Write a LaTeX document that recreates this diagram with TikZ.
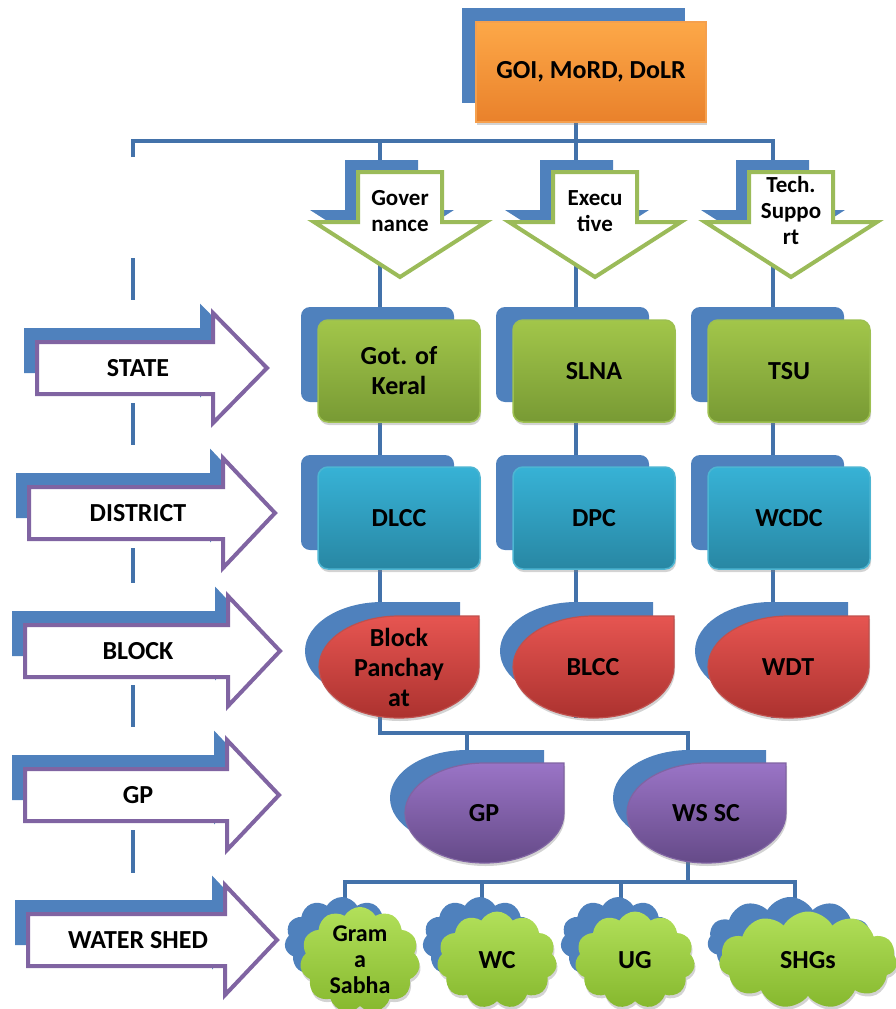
\documentclass[tikz,border=0pt]{standalone}
\usepackage{fontspec}
\setmainfont{Carlito}
\usetikzlibrary{shapes.symbols,shadows}
\definecolor{lineblue}{HTML}{4372AA}
\definecolor{shblue}{HTML}{4F81BD}
\definecolor{orTop}{HTML}{FDA848}
\definecolor{orBot}{HTML}{E9812B}
\definecolor{orLine}{HTML}{F5A04E}
\definecolor{grTop}{HTML}{A2C64A}
\definecolor{grBot}{HTML}{789A34}
\definecolor{grLine}{HTML}{9DC050}
\definecolor{tlTop}{HTML}{37B2D6}
\definecolor{tlBot}{HTML}{2887A3}
\definecolor{tlLine}{HTML}{4DB5D2}
\definecolor{rdTop}{HTML}{E65551}
\definecolor{rdBot}{HTML}{AC322F}
\definecolor{rdLine}{HTML}{C0504D}
\definecolor{puTop}{HTML}{9A74C6}
\definecolor{puBot}{HTML}{654A88}
\definecolor{puLine}{HTML}{8064A2}
\definecolor{clTop}{HTML}{B2E05A}
\definecolor{clBot}{HTML}{86B82E}
\definecolor{arGreen}{HTML}{9BBB59}
\definecolor{arPurple}{HTML}{8064A2}
\newcommand\lbl{\fontsize{26}{30}\selectfont\bfseries}
\newcommand\albl{\fontsize{23}{26}\selectfont\bfseries}
\newcommand\clbl{\fontsize{24}{26}\selectfont\bfseries}
\newcommand\DownArr[3]{%
  \fill[shblue] ({#2-55},160) -- ({#2+18},160) -- ({#2+18},210) -- ({#2+54},210) -- ({#2-18},256) -- ({#2-90},210) -- ({#2-55},210) -- cycle;
  \draw[draw=arGreen, fill=white, line width=4pt] ({#2-42},172) -- ({#2+42},172) -- ({#2+42},222) -- ({#2+86},222) -- (#2,277) -- ({#2-86},222) -- ({#2-42},222) -- cycle;
  \node[txt, font=\albl] (#1) at (#2,211) {#3};}
\newcommand\LeftArr[6]{%
  \fill[shblue] ({#3-13},{#2-40}) -- ({#4-13},{#2-40}) -- ({#4-13},{#2-64.5}) -- ({#4-13+0.85*(#5-#4)},{#2-17.5}) -- ({#4-13},{#2+29.5}) -- ({#4-13},{#2+5}) -- ({#3-13},{#2+5}) -- cycle;
  \draw[draw=arPurple, fill=white, line width=4pt] (#3,{#2-26}) -- (#4,{#2-26}) -- (#4,{#2-55}) -- (#5,#2) -- (#4,{#2+55}) -- (#4,{#2+26}) -- (#3,{#2+26}) -- cycle;
  \node[txt, font=\lbl] (#1) at (138,#2) {#6};}
\newcommand\TearDrop[5]{%
  \path[#5] (#3,#2) -- ({(#1+#3)/2},#2)
   .. controls ({(#1+#3)/2-0.5523*(#3-#1)/2},#2) and (#1,{(#2+#4)/2-0.5523*(#4-#2)/2}) .. (#1,{(#2+#4)/2})
   .. controls (#1,{(#2+#4)/2+0.5523*(#4-#2)/2}) and ({(#1+#3)/2-0.5523*(#3-#1)/2},#4) .. ({(#1+#3)/2},#4)
   .. controls ({(#1+#3)/2+0.5523*(#3-#1)/2},#4) and (#3,{(#2+#4)/2+0.5523*(#4-#2)/2}) .. (#3,{(#2+#4)/2}) -- cycle;}
\tikzset{
  conn/.style={draw=lineblue, line width=4.5pt},
  txt/.style={align=center, inner sep=0pt},
  shade3d/.style={drop shadow={opacity=0.35, shadow xshift=1pt, shadow yshift=-3pt}},
  shbox/.style={fill=shblue, rounded corners=9pt, inner sep=0pt, minimum width=153pt, minimum height=95pt},
  colbox/.style={rounded corners=10pt, inner sep=0pt, minimum width=162pt, minimum height=102pt, align=center, font=\lbl, line width=1.5pt, shade3d},
  grbox/.style={colbox, top color=grTop, bottom color=grBot, draw=grLine},
  tlbox/.style={colbox, top color=tlTop, bottom color=tlBot, draw=tlLine},
  rdshape/.style={top color=rdTop, bottom color=rdBot, draw=rdLine, line width=1.2pt, shade3d},
  pushape/.style={top color=puTop, bottom color=puBot, draw=puLine, line width=1.2pt, shade3d},
  cloudbase/.style={cloud, cloud puffs=11, cloud puff arc=120, cloud ignores aspect, inner sep=0pt},
  cloudsh/.style={cloudbase, fill=shblue},
  cloudgr/.style={cloudbase, top color=clTop, bottom color=clBot, align=center, shade3d},
}
\begin{document}
\begin{tikzpicture}[x=1pt,y=-1pt]
\useasboundingbox (0,0) rectangle (896,1009);
\clip (0,0) rectangle (896,1009);
% junction coordinates
\coordinate (lc0) at (133,157);
\coordinate (hr) at (773,141);
\coordinate (cT) at (773,718);
\coordinate (goiB) at (576,122);
\coordinate (cE) at (576,718);
\coordinate (cG) at (380,141);
\coordinate (jB) at (380,733);
\coordinate (jR) at (688,733);
\coordinate (jW) at (688,882);
\coordinate (jGt) at (467,733);
\coordinate (jGb) at (467,752);
\coordinate (w1) at (345,905);
\coordinate (w4) at (795,905);
\coordinate (w2t) at (482,882);
\coordinate (w2b) at (482,905);
\coordinate (w3t) at (621,882);
\coordinate (w3b) at (621,905);
\coordinate (wh) at (795,882);
\coordinate (l1a) at (133,258); \coordinate (l1b) at (133,300);
\coordinate (l2a) at (133,403); \coordinate (l2b) at (133,445);
\coordinate (l3a) at (133,548); \coordinate (l3b) at (133,583);
\coordinate (l4a) at (133,685); \coordinate (l4b) at (133,727);
\coordinate (l5a) at (133,830); \coordinate (l5b) at (133,873);
% connectors
\draw[conn] (lc0) |- (hr) -- (cT);
\draw[conn] (goiB) -- (cE);
\draw[conn] (cG) -- (jB) -- (jR) -- (jW);
\draw[conn] (jGt) -- (jGb);
\draw[conn] (w1) |- (wh) -- (w4);
\draw[conn] (w2t) -- (w2b);
\draw[conn] (w3t) -- (w3b);
\foreach \a/\b in {l1a/l1b,l2a/l2b,l3a/l3b,l4a/l4b,l5a/l5b} \draw[conn] (\a) -- (\b);
% top box
\node[fill=shblue, minimum width=223pt, minimum height=95pt, inner sep=0pt] (goish) at (573.5,55.5) {};
\node[top color=orTop, bottom color=orBot, draw=orLine, line width=1.5pt, minimum width=230pt, minimum height=100pt, inner sep=0pt, font=\lbl, shade3d] (goi) at (591,72) {GOI, MoRD, DoLR};
% down arrows
\DownArr{gov}{400}{Gover\\nance}
\DownArr{exe}{595}{Execu\\tive}
\DownArr{tech}{791}{Tech.\\Suppo\\rt}
% left arrows
\LeftArr{state}{368}{37}{213}{267}{STATE}
\LeftArr{district}{513}{29}{223}{275}{DISTRICT}
\LeftArr{block}{651}{25}{228}{280}{BLOCK}
\LeftArr{gpl}{795}{25}{227}{279}{GP}
\LeftArr{wshed}{940}{28}{225}{277}{WATER SHED}
% state row
\foreach \c/\n in {399/a,594/b,789/c} {
  \node[shbox] (ssh\n) at ({\c-21.5},354.5) {};
  \node[shbox] (dsh\n) at ({\c-21.5},502.5) {};
}
\node[grbox] (kerala) at (399,371) {Got. of\\Keral};
\node[grbox] (slna) at (594,371) {SLNA};
\node[grbox] (tsu) at (789,371) {TSU};
\node[tlbox] (dlcc) at (399,518) {DLCC};
\node[tlbox] (dpc) at (594,518) {DPC};
\node[tlbox] (wcdc) at (789,518) {WCDC};
% block row
\TearDrop{305}{602}{460}{700}{fill=shblue}
\TearDrop{500}{602}{653}{700}{fill=shblue}
\TearDrop{695}{602}{848}{700}{fill=shblue}
\TearDrop{319}{616}{479}{718}{rdshape}
\TearDrop{513}{616}{674}{718}{rdshape}
\TearDrop{708}{616}{869}{718}{rdshape}
\node[txt, font=\lbl] (bp) at (399,667) {Block\\Panchay\\at};
\node[txt, font=\lbl] (blcc) at (593,667) {BLCC};
\node[txt, font=\lbl] (wdt) at (788,667) {WDT};
% GP row
\TearDrop{390}{750}{544}{846}{fill=shblue}
\TearDrop{613}{750}{766}{846}{fill=shblue}
\TearDrop{405}{763}{564}{863}{pushape}
\TearDrop{627}{763}{786}{863}{pushape}
\node[txt, font=\lbl] (gp) at (484,813) {GP};
\node[txt, font=\lbl] (wssc) at (706,813) {WS SC};
% clouds
\node[cloudsh, minimum width=115pt, minimum height=88pt] (gssh) at (342,941) {};
\node[cloudsh, minimum width=115pt, minimum height=88pt] (wcsh) at (480,941) {};
\node[cloudsh, minimum width=115pt, minimum height=88pt] (ugsh) at (618,941) {};
\node[cloudsh, minimum width=165pt, minimum height=88pt] (shsh) at (790,941) {};
\node[cloudgr, minimum width=120pt, minimum height=97pt, font=\clbl] (gs) at (360,960) {Gram\\a\\Sabha};
\node[cloudgr, minimum width=120pt, minimum height=97pt, font=\lbl] (wc) at (497,960) {WC};
\node[cloudgr, minimum width=120pt, minimum height=97pt, font=\lbl] (ug) at (635,960) {UG};
\node[cloudgr, minimum width=178pt, minimum height=97pt, font=\lbl] (shg) at (808,960) {SHGs};
\end{tikzpicture}
\end{document}
